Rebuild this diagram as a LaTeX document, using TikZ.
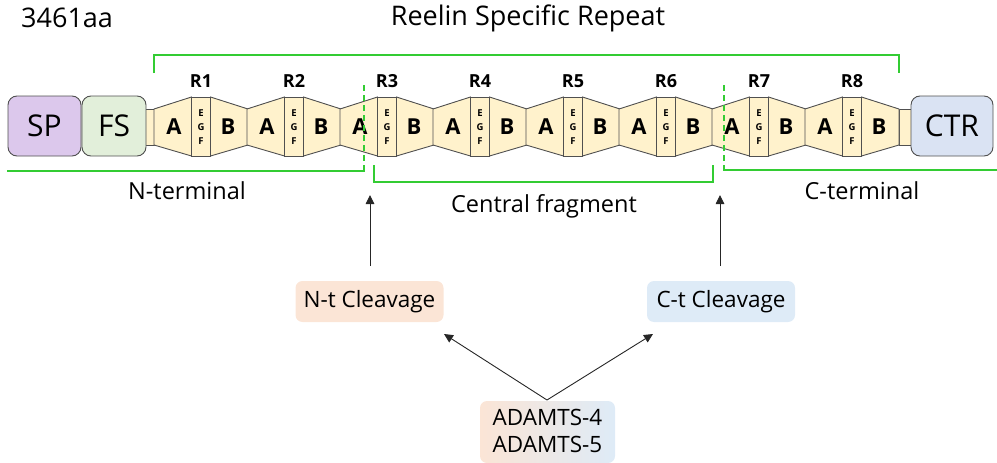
\documentclass[tikz,border=0pt]{standalone}
\usepackage{fontspec}
\setmainfont{Open Sans}
\usetikzlibrary{arrows.meta}
\definecolor{rep}{HTML}{FFF2CC}
\definecolor{spc}{HTML}{DCC8EC}
\definecolor{fsc}{HTML}{E2EFDA}
\definecolor{ctrc}{HTML}{DAE3F3}
\definecolor{grn}{HTML}{33CC33}
\definecolor{peach}{HTML}{FBE5D6}
\definecolor{lblue}{HTML}{DEEBF7}
\definecolor{edge}{HTML}{505050}
\tikzset{
  dombox/.style={draw=edge,line width=0.9pt,rounded corners=9pt},
  repshape/.style={fill=rep,draw=edge,line width=0.9pt},
  letter/.style={font=\fontsize{22}{22}\selectfont\bfseries},
  rlab/.style={font=\fontsize{18}{18}\selectfont\bfseries},
  egf/.style={font=\fontsize{9.5}{9.5}\selectfont\bfseries,inner sep=0pt},
  gline/.style={draw=grn,line width=2.8pt},
  gdash/.style={draw=grn,line width=2.8pt,dash pattern=on 6pt off 4pt},
  region/.style={font=\fontsize{23.5}{23.5}\selectfont},
  cleave/.style={rounded corners=7pt,minimum width=148pt,minimum height=41pt,font=\fontsize{22.5}{22.5}\selectfont},
  arr/.style={-{Triangle[length=9pt,width=8.5pt]},line width=0.9pt,black!85}
}
\begin{document}
\begin{tikzpicture}[x=1pt,y=-1pt]
\useasboundingbox (0,0) rectangle (997,463);
% linkers
\draw[repshape] (144,109) rectangle (154,145);
\draw[repshape] (899,109) rectangle (913,145);
% domains
\draw[dombox,fill=spc] (8,96) rectangle (81,156);
\node[font=\fontsize{30}{30}\selectfont] (sp) at (44.5,126) {SP};
\draw[dombox,fill=fsc] (82,96) rectangle (146,156);
\node[font=\fontsize{30}{30}\selectfont] (fs) at (114,126) {FS};
\draw[dombox,fill=ctrc] (911,96) rectangle (993,156);
\node[font=\fontsize{30}{30}\selectfont] (ctr) at (952,126) {CTR};
% repeats
\foreach \i in {1,...,8}{
  \pgfmathsetmacro{\c}{201+93*(\i-1)}
  \draw[repshape] (\c-47,109) -- (\c-9.5,97) -- (\c-9.5,156) -- (\c-47,145) -- cycle;
  \draw[repshape] (\c-9.5,97) rectangle (\c+9.5,156);
  \draw[repshape] (\c+9.5,97) -- (\c+47,109) -- (\c+47,145) -- (\c+9.5,156) -- cycle;
  \node[letter] (a\i) at (\c-27,127) {A};
  \node[letter] (b\i) at (\c+27,127) {B};
  \node[egf] (e\i) at (\c,113) {E};
  \node[egf] (g\i) at (\c,127) {G};
  \node[egf] (f\i) at (\c,141) {F};
  \node[rlab] (r\i) at (\c,81) {R\i};
}
% titles
\node[font=\fontsize{27}{27}\selectfont,anchor=west,inner sep=0pt] (len) at (21,18) {3461aa};
\node[font=\fontsize{27}{27}\selectfont] (rsr) at (528,18) {Reelin Specific Repeat};
% top bracket
\draw[gline] (154,73) -- (154,55) -- (899,55) -- (899,73);
% N-terminal
\draw[gline] (7,171) -- (365,171);
\draw[gdash] (364,85) -- (364,171);
\node[region] (nterm) at (187,191) {N-terminal};
% central
\draw[gline] (374,165) -- (374,182) -- (713,182) -- (713,165);
\node[region] (cent) at (544,206) {Central fragment};
% C-terminal
\draw[gdash] (724,85) -- (724,170);
\draw[gline] (723,170) -- (997,170);
\node[region] (cterm) at (862,191) {C-terminal};
% cleavage boxes
\node[cleave,fill=peach] (nt) at (369.5,301.5) {N-t Cleavage};
\node[cleave,fill=lblue] (ct) at (721,301.5) {C-t Cleavage};
\shade[left color=peach,right color=lblue,rounded corners=7pt] (480,401) rectangle (615,463);
\node[align=center,font=\fontsize{22.5}{27}\selectfont] (adam) at (547.5,431) {ADAMTS-4\\ADAMTS-5};
\coordinate (nup) at (370,195);
\coordinate (cup) at (720,195);
\coordinate (ndown) at (370,266);
\coordinate (cdown) at (720,266);
\coordinate (adtop) at (547,400);
\coordinate (ntend) at (444,334);
\coordinate (ctend) at (653,334);
\draw[arr] (ndown) -- (nup);
\draw[arr] (cdown) -- (cup);
\draw[arr] (adtop) -- (ntend);
\draw[arr] (adtop) -- (ctend);
\end{tikzpicture}
\end{document}
